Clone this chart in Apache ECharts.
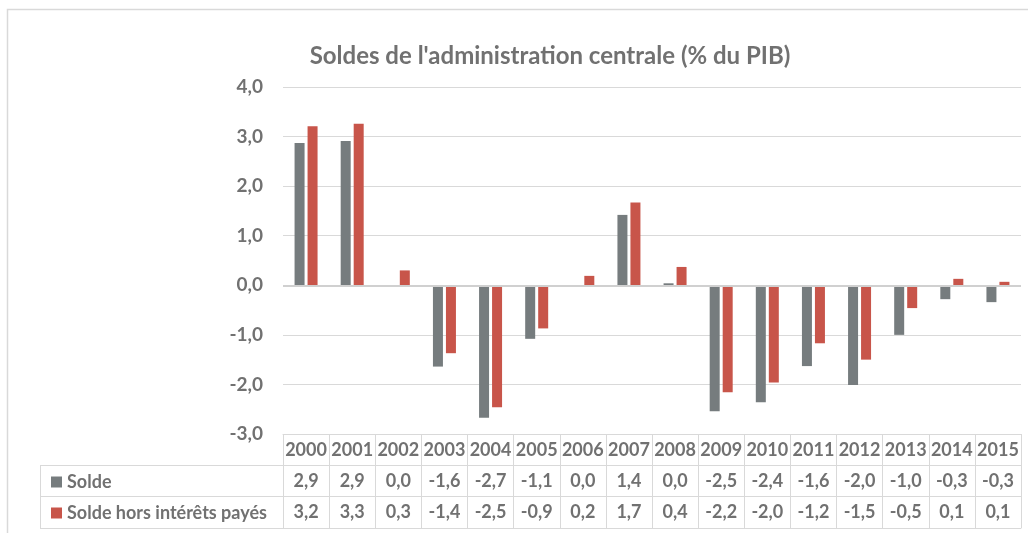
<!DOCTYPE html>
<html>
<head>
<meta charset="utf-8">
<script src="https://cdn.jsdelivr.net/npm/echarts@6/dist/echarts.min.js"></script>
<style>
  html, body { margin: 0; padding: 0; background: #fff; }
  #chart { width: 1028px; height: 533px; }
</style>
</head>
<body>
<div id="chart"></div>
<script>
// données
const annees = ['2000', '2001', '2002', '2003', '2004', '2005', '2006', '2007',
                '2008', '2009', '2010', '2011', '2012', '2013', '2014', '2015'];
const solde = [2.87, 2.91, 0.0, -1.64, -2.67, -1.08, 0.0, 1.42,
               0.04, -2.54, -2.36, -1.63, -2.01, -1.0, -0.28, -0.34];
const soldeHorsInterets = [3.21, 3.26, 0.30, -1.37, -2.46, -0.87, 0.19, 1.67,
                           0.37, -2.16, -1.96, -1.17, -1.50, -0.46, 0.13, 0.07];
const yTicks = { min: -3, max: 4, interval: 1 };

const FONT = 'Lato';
const GREY_TXT = '#717171';
const LINE = '#d9d9d9';

function fr(v) {
  return Number(v).toFixed(1).replace('.', ',');
}

const chart = echarts.init(document.getElementById('chart'));

const labelStyle = {
  color: GREY_TXT, fontFamily: FONT, fontWeight: 'bold', fontSize: 18,
  margin: 7, interval: 0
};

// une ligne du tableau = un axe x décalé vers le bas
function rowAxis(offset, values) {
  return {
    type: 'category', data: annees, position: 'bottom', offset: offset,
    axisLine: { show: true, onZero: false, lineStyle: { color: LINE, width: 1 } },
    axisTick: { show: false },
    axisLabel: values
      ? Object.assign({}, labelStyle, { formatter: (v, i) => fr(values[i]) })
      : { show: false }
  };
}

const option = {
  animation: false,
  title: {
    text: "Soldes de l'administration centrale (% du PIB)",
    left: 545,
    top: 39,
    textAlign: 'center',
    textStyle: { color: GREY_TXT, fontFamily: FONT, fontWeight: 'bold', fontSize: 24 }
  },
  legend: {
    orient: 'vertical',
    left: 46,
    top: 467,
    itemWidth: 11,
    itemHeight: 11,
    itemGap: 11,
    icon: 'rect',
    textStyle: { color: GREY_TXT, fontFamily: FONT, fontWeight: 'bold', fontSize: 18, lineHeight: 20 },
    data: ['Solde', 'Solde hors intérêts payés']
  },
  grid: { left: 283, right: 7, top: 87, bottom: 99 },
  xAxis: [
    {
      type: 'category',
      data: annees,
      position: 'bottom',
      axisLine: { show: true, onZero: false, lineStyle: { color: LINE, width: 1 } },
      axisTick: { show: true, interval: 0, length: 94, lineStyle: { color: LINE, width: 1 } },
      axisLabel: Object.assign({}, labelStyle)
    },
    rowAxis(31, solde),
    rowAxis(62, soldeHorsInterets),
    rowAxis(94, null)
  ],
  yAxis: {
    type: 'value',
    min: yTicks.min,
    max: yTicks.max,
    interval: yTicks.interval,
    axisLine: { show: false },
    axisTick: { show: false },
    splitLine: { lineStyle: { color: LINE, width: 1 } },
    axisLabel: {
      color: GREY_TXT, fontFamily: FONT, fontWeight: 'bold', fontSize: 19, margin: 20,
      formatter: v => fr(v)
    }
  },
  series: [
    {
      name: 'Solde',
      type: 'bar',
      xAxisIndex: 0,
      data: solde,
      barWidth: 10,
      barGap: '30%',
      itemStyle: { color: '#767c7e' },
      markLine: {
        silent: true,
        symbol: 'none',
        label: { show: false },
        lineStyle: { color: '#d0d0d0', width: 2, type: 'solid' },
        data: [{ yAxis: 0 }]
      }
    },
    {
      name: 'Solde hors intérêts payés',
      type: 'bar',
      xAxisIndex: 0,
      data: soldeHorsInterets,
      barWidth: 10,
      barGap: '30%',
      itemStyle: { color: '#c8554a' }
    }
  ],
  graphic: [
    {
      type: 'rect', silent: true,
      shape: { x: 7.5, y: 9.5, width: 1100, height: 600 },
      style: { fill: 'none', stroke: LINE, lineWidth: 1.5 }
    },
    { type: 'line', silent: true, shape: { x1: 40.5, y1: 466, x2: 40.5, y2: 528 }, style: { stroke: LINE, lineWidth: 1 } },
    { type: 'line', silent: true, shape: { x1: 40, y1: 465.5, x2: 283, y2: 465.5 }, style: { stroke: LINE, lineWidth: 1 } },
    { type: 'line', silent: true, shape: { x1: 40, y1: 496.5, x2: 283, y2: 496.5 }, style: { stroke: LINE, lineWidth: 1 } },
    { type: 'line', silent: true, shape: { x1: 40, y1: 528.5, x2: 283, y2: 528.5 }, style: { stroke: LINE, lineWidth: 1 } }
  ]
};

chart.setOption(option);
</script>
</body>
</html>
